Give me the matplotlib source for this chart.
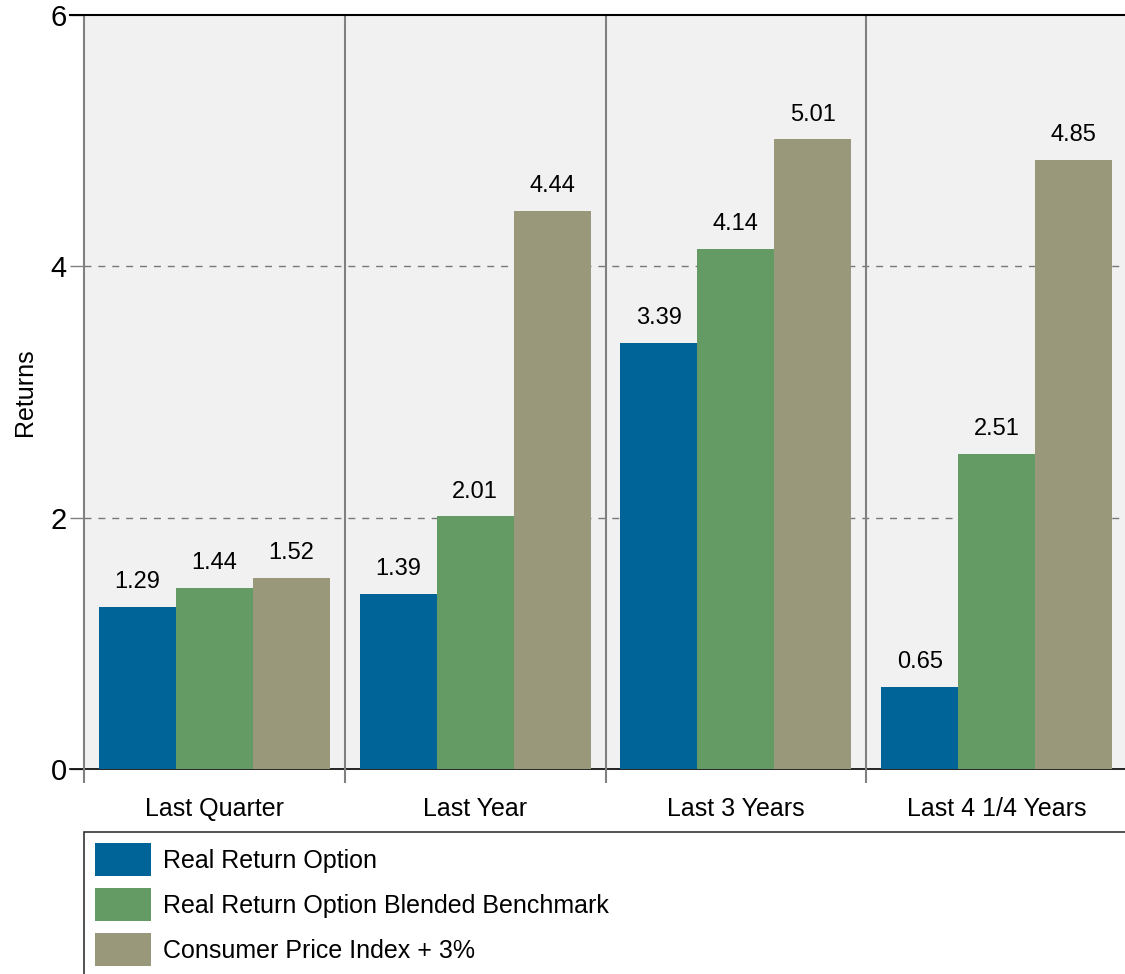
import matplotlib
matplotlib.use("Agg")
import matplotlib.pyplot as plt
import numpy as np

categories = ["Last Quarter", "Last Year", "Last 3 Years", "Last 4 1/4 Years"]
series_names = ["Real Return Option", "Real Return Option Blended Benchmark",
                "Consumer Price Index + 3%"]
real_return = [1.29, 1.39, 3.39, 0.65]
blended = [1.44, 2.01, 4.14, 2.51]
cpi_plus3 = [1.52, 4.44, 5.01, 4.85]
yticks = [0, 2, 4, 6]
colors = ["#006499", "#649b65", "#9a987a"]

plt.rcParams['font.family'] = ['Liberation Sans', 'DejaVu Sans']
W, H = 1125, 974
fig = plt.figure(figsize=(W / 100, H / 100), dpi=100)
L, R, T, B = 84, 1127, 15, 769
ax = fig.add_axes([L / W, 1 - B / H, (R - L) / W, (B - T) / H])
ax.set_facecolor("#f1f1f1")
ax.set_xlim(0, len(categories))
ax.set_ylim(min(yticks), max(yticks))

x = np.arange(len(categories)) + 0.5
bw = 0.2953
for k, (vals, name, c) in enumerate(zip([real_return, blended, cpi_plus3], series_names, colors)):
    bars = ax.bar(x + (k - 1) * bw, vals, bw, color=c, label=name, zorder=3)
    for b, v in zip(bars, vals):
        ax.annotate(f"{v:.2f}", (b.get_x() + b.get_width() / 2, v), xytext=(0, 10),
                    textcoords="offset points", ha="center", va="bottom", fontsize=17)

for s in ax.spines.values():
    s.set_visible(False)

# gridlines
for y in yticks[1:-1]:
    ax.axhline(y, color="#777777", lw=1, ls=(0, (5, 5)), zorder=1)

# separators incl. left edge
ext = 14 / (B - T)
xt = ax.get_xaxis_transform()
for xs in range(len(categories)):
    ax.plot([xs, xs], [-ext, 1], transform=xt, color="#808080", lw=1.5,
            clip_on=False, zorder=4, solid_capstyle="butt")

# black lines at 0 and 6
yt = ax.get_yaxis_transform()
tk = 14 / (R - L)
ax.plot([-tk, 1], [0, 0], transform=yt, color="black", lw=1.2, clip_on=False, zorder=2.5)
ax.plot([-tk, 1], [6, 6], transform=yt, color="black", lw=1.5, clip_on=False, zorder=5)

ax.set_yticks(yticks)
ax.tick_params(axis="y", length=10, width=1, color="#808080", pad=2.4, labelsize=21)
ax.set_xticks(x, categories)
ax.tick_params(axis="x", length=0, pad=20, labelsize=18)
ax.set_ylabel("Returns", fontsize=18, labelpad=9.5)

leg = fig.legend(loc="upper left", bbox_to_anchor=(L / W, 1 - 832 / H, (1300 - L) / W, 0),
                 bbox_transform=fig.transFigure, mode="expand", ncol=1, frameon=True,
                 fancybox=False, edgecolor="#333333", framealpha=1, fontsize=18,
                 handlelength=2.24, handleheight=1.654, handletextpad=0.48,
                 labelspacing=0.48, borderpad=0.45, borderaxespad=0)
leg.get_frame().set_linewidth(1.2)

fig.savefig("out.png", dpi=100)
